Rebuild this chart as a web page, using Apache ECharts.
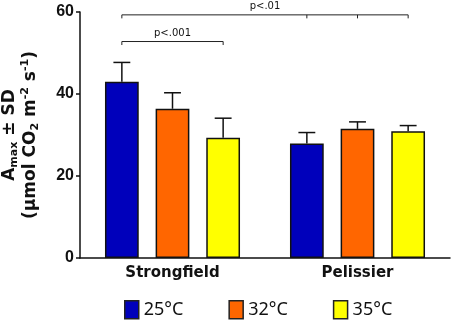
<!DOCTYPE html>
<html>
<head>
<meta charset="utf-8">
<script src="https://cdn.jsdelivr.net/npm/echarts@6/dist/echarts.min.js"></script>
<style>
html,body{margin:0;padding:0;background:#fff;}
#main{width:454px;height:321px;}
</style>
</head>
<body>
<div id="main"></div>
<script>
// cultivars on x axis, one bar per temperature
var categories = ['Strongfield', 'Pelissier'];
var temps = ['25°C', '32°C', '35°C'];
var colors = ['#0000bb', '#ff6600', '#ffff00'];

// Amax means and SD, per temperature, [Strongfield, Pelissier]
var mean25 = [43.0, 27.9];
var mean32 = [36.4, 31.5];
var mean35 = [29.3, 30.9];
var sd25 = [4.7, 2.7];
var sd32 = [3.9, 1.7];
var sd35 = [4.8, 1.4];

var yTicks = [0, 20, 40, 60];

// significance brackets: ends given as [category, temp index]
var bracketLabels = ['p<.001', 'p<.01'];
var bracketHeights = [52.8, 59.3];
var bracketEnds = [
    [[0, 0], [0, 2]],
    [[0, 0], [1, 0], [1, 1], [1, 2]]
];

var means = [mean25, mean32, mean35];
var sds = [sd25, sd32, sd35];

var GAP_CAT = 0.27, GAP_BAR = 0.5;

// x pixel of a bar centre, same maths as echarts bar layout
function barX(api, cat, si) {
    var band = api.size([1, 0])[0];
    var n = temps.length;
    var barW = band * (1 - GAP_CAT) / (n + (n - 1) * GAP_BAR);
    var cx = api.coord([cat, 0])[0];
    return {x: cx + (si - (n - 1) / 2) * barW * (1 + GAP_BAR), w: barW};
}

var chart = echarts.init(document.getElementById('main'));

var series = [];
temps.forEach(function (t, i) {
    series.push({
        name: t,
        type: 'bar',
        barGap: '50%',
        barCategoryGap: '27%',
        data: means[i],
        itemStyle: {color: colors[i], borderColor: '#111', borderWidth: 1.5},
        emphasis: {disabled: true},
        z: 2
    });
});

// error bars (upper only)
var errData = [];
temps.forEach(function (t, i) {
    categories.forEach(function (c, k) {
        errData.push([k, means[i][k], sds[i][k], i]);
    });
});
series.push({
    type: 'custom',
    name: 'sd',
    data: errData,
    z: 3,
    silent: true,
    renderItem: function (params, api) {
        var cat = api.value(0), m = api.value(1), sd = api.value(2), si = api.value(3);
        var b = barX(api, cat, si);
        var y0 = api.coord([cat, m])[1];
        var y1 = api.coord([cat, m + sd])[1];
        var st = {stroke: '#111', lineWidth: 1.5};
        return {type: 'group', children: [
            {type: 'line', shape: {x1: b.x, y1: y0, x2: b.x, y2: y1}, style: st},
            {type: 'line', shape: {x1: b.x - b.w / 4, y1: y1, x2: b.x + b.w / 4, y2: y1}, style: st}
        ]};
    }
});

// significance brackets
series.push({
    type: 'custom',
    name: 'sig',
    data: bracketLabels.map(function (l, i) { return [0, bracketHeights[i], i]; }),
    z: 3,
    silent: true,
    renderItem: function (params, api) {
        var idx = api.value(2);
        var ends = bracketEnds[idx];
        var y = api.coord([0, bracketHeights[idx]])[1];
        var xs = ends.map(function (e) { return barX(api, e[0], e[1]).x; });
        var x1 = xs[0], x2 = xs[xs.length - 1];
        var st = {stroke: '#222', lineWidth: 1};
        var kids = [{type: 'line', shape: {x1: x1, y1: y, x2: x2, y2: y}, style: st}];
        xs.forEach(function (x) {
            kids.push({type: 'line', shape: {x1: x, y1: y, x2: x, y2: y + 3.5}, style: st});
        });
        kids.push({type: 'text', x: (x1 + x2) / 2, y: y - 3,
            style: {text: bracketLabels[idx], fill: '#111', font: '10px "DejaVu Sans"',
                align: 'center', verticalAlign: 'bottom'}});
        return {type: 'group', children: kids};
    }
});

chart.setOption({
    animation: false,
    grid: {left: 80, right: 4, top: 12, bottom: 63, containLabel: false, outerBoundsMode: 'none'},
    legend: {
        data: temps,
        icon: 'rect',
        left: 124,
        top: 300,
        padding: 0,
        itemWidth: 14,
        itemHeight: 18,
        itemGap: 45,
        textStyle: {fontFamily: 'Noto Sans', fontSize: 18, color: '#111'},
        itemStyle: {borderColor: '#222', borderWidth: 1.5}
    },
    xAxis: {
        type: 'category',
        data: categories,
        axisLine: {lineStyle: {color: '#111', width: 1.5}},
        axisTick: {alignWithLabel: true, length: 4, lineStyle: {color: '#111', width: 1.5}},
        axisLabel: {margin: 8, fontFamily: 'DejaVu Sans', fontWeight: 'bold', fontSize: 15, color: '#111'}
    },
    yAxis: {
        type: 'value',
        min: yTicks[0],
        max: yTicks[yTicks.length - 1],
        interval: yTicks[1] - yTicks[0],
        splitLine: {show: false},
        axisLine: {show: true, lineStyle: {color: '#111', width: 1.5}},
        axisTick: {show: true, length: 4, lineStyle: {color: '#111', width: 1.5}},
        axisLabel: {margin: 6, fontFamily: 'Liberation Sans', fontWeight: 'bold', fontSize: 16, color: '#111'},
        name: '{a|A}{s|max}{a| ± SD}\n{a|(µmol CO}{s|2}{a| m}{p|-2}{a| s}{p|-1}{a|)}',
        nameLocation: 'middle',
        nameGap: 39,
        nameTextStyle: {
            rich: {
                a: {fontFamily: 'DejaVu Sans', fontWeight: 'bold', fontSize: 17, color: '#111', lineHeight: 21},
                s: {fontFamily: 'DejaVu Sans', fontWeight: 'bold', fontSize: 11, color: '#111', lineHeight: 11, verticalAlign: 'bottom'},
                p: {fontFamily: 'DejaVu Sans', fontWeight: 'bold', fontSize: 11, color: '#111', lineHeight: 11, verticalAlign: 'top'}
            }
        }
    },
    series: series
});
</script>
</body>
</html>
